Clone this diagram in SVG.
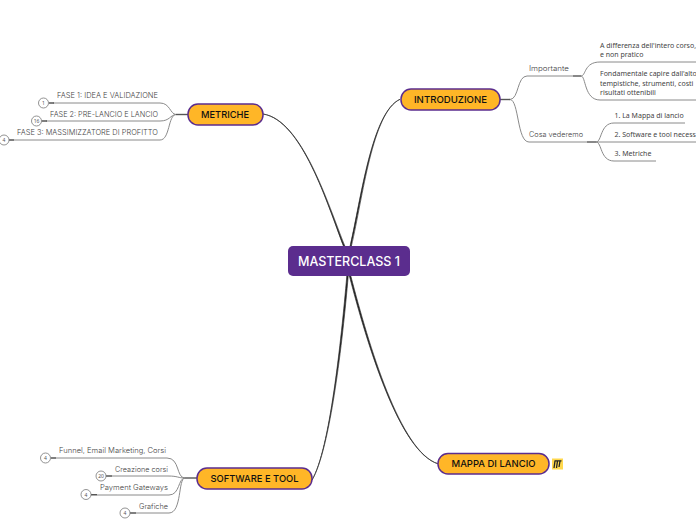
<svg xmlns="http://www.w3.org/2000/svg" width="696" height="520" viewBox="0 0 696 520">
<style>
.c{fill:#1c1c1c;stroke:#333;stroke-width:.7;stroke-linejoin:round}
.g{fill:none;stroke:#8a8a8a;stroke-width:1}
.d{fill:none;stroke:#555;stroke-width:1.4}
.n{fill:#ffb627;stroke:#5b2d8e;stroke-width:1.5}
.nt{font-family:Inter,"Liberation Sans",sans-serif;font-size:9.5px;font-weight:500;fill:#111;text-anchor:middle}
.l{font-family:Inter,"Liberation Sans",sans-serif;font-size:7.2px;font-weight:300;fill:#444}
.b{font-family:"Noto Sans","Open Sans",sans-serif;font-size:7px;fill:#444}
.r{fill:#fff;stroke:#777;stroke-width:.8}
.rt{font-family:"Noto Sans",sans-serif;font-size:5px;fill:#555;text-anchor:middle}
</style>
<g id="connectors">
<path class="c" d="M343.400 246C327.800 205 301.800 120 263 114C302.200 119.700 328.200 205 344.800 246Z"/>
<path class="c" d="M350.100 246C361.200 198 371.800 112 400 99.300C372.200 112.200 362.800 198 351.400 246Z"/>
<path class="c" d="M346.800 276C341.200 340 329.800 450 312 480C330.200 450 342.800 340 348.200 276Z"/>
<path class="c" d="M349.400 276C367.200 345 399.800 452 438 463.800C400.200 451.800 368.800 345 350.800 276Z"/>
<path class="d" d="M500 99.500H510"/>
<path class="g" d="M510 99.500C519 99 517 76 527 76H573"/>
<path class="g" d="M510 99.500C519 100 517 142 529 142H587"/>
<path class="d" d="M573 76H581"/>
<path class="g" d="M581 76C586 76 584 62 600 62H696"/>
<path class="g" d="M581 76C586 76 584 100 600 100H696"/>
<path class="d" d="M587 142H596"/>
<path class="g" d="M596 142C602 142 600 123 614 123H685"/>
<path class="g" d="M596 142H696"/>
<path class="g" d="M596 142C602 142 600 161 614 161H656"/>
<path class="d" d="M188 114.500H176"/>
<path class="g" d="M176 114.500C170 114 170 103 160 103H53"/>
<path class="g" d="M176 114.500C170 115 170 121 160 121H46"/>
<path class="g" d="M176 114.500C168 115 170 140 160 140H14"/>
<path class="d" d="M197 478H185"/>
<path class="g" d="M185 478C176 478 180 458 167 458H56"/>
<path class="g" d="M185 478C178 478 178 476 168 476H112"/>
<path class="g" d="M185 478C178 478 180 495 169 495H97"/>
<path class="g" d="M185 478C178 478 182 513 169 513H136"/>
<path class="d" d="M49 103H54M41.500 121H47M9 140H14M51 458H56M106 476H112M91 494.700H97M130 513H136"/>
</g>
<g id="central"><rect x="288" y="246" width="122" height="30" rx="5" fill="#5b2d8e"/><text x="349" y="266" font-family="Inter,'Liberation Sans',sans-serif" font-size="13px" font-weight="500" fill="#fff" text-anchor="middle" textLength="102" lengthAdjust="spacingAndGlyphs">MASTERCLASS 1</text></g>
<g id="introduzione"><rect class="n" x="401" y="89" width="99" height="21" rx="10"/><text class="nt" x="450.500" y="102.500" textLength="73" lengthAdjust="spacingAndGlyphs">INTRODUZIONE</text></g>
<g id="metriche"><rect class="n" x="188" y="104" width="75" height="21" rx="10"/><text class="nt" x="225" y="117.500" textLength="48" lengthAdjust="spacingAndGlyphs">METRICHE</text></g>
<g id="software"><rect class="n" x="197" y="468" width="115" height="21" rx="10"/><text class="nt" x="254.500" y="482" textLength="88" lengthAdjust="spacingAndGlyphs">SOFTWARE E TOOL</text></g>
<g id="mappa"><rect class="n" x="438" y="453.500" width="111" height="20.500" rx="10"/><text class="nt" x="493.500" y="467" textLength="84" lengthAdjust="spacingAndGlyphs">MAPPA DI LANCIO</text>
<rect x="552" y="458.500" width="11" height="11" fill="#ffd84d"/><path d="M555 461L554 468M557.500 461L556.500 468M560 461L559 467M554.500 460.800H561.500" stroke="#222" stroke-width="1.300" fill="none"/></g>
<g id="importante"><text class="l" x="529" y="71" textLength="40" lengthAdjust="spacingAndGlyphs">Importante</text></g>
<g id="cosa"><text class="l" x="529" y="137" textLength="54" lengthAdjust="spacingAndGlyphs">Cosa vederemo</text></g>
<g id="differenza"><text class="b" x="600" y="47.500">A differenza dell'intero corso,</text><text class="b" x="600" y="57">e non pratico</text></g>
<g id="fondamentale"><text class="b" x="600" y="76">Fondamentale capire dall'alto</text><text class="b" x="600" y="85.500">tempistiche, strumenti, costi</text><text class="b" x="600" y="95">risultati ottenibili</text></g>
<g id="i1"><text class="b" x="614.500" y="118">1. La Mappa di lancio</text></g>
<g id="i2"><text class="b" x="614.500" y="137">2. Software e tool necess</text></g>
<g id="i3"><text class="b" x="614.500" y="156">3. Metriche</text></g>
<g id="f1"><text class="l" x="158" y="98" text-anchor="end" textLength="101" lengthAdjust="spacingAndGlyphs">FASE 1: IDEA E VALIDAZIONE</text><circle class="r" cx="43.500" cy="103" r="5"/><text class="rt" x="43.500" y="105">1</text></g>
<g id="f2"><text class="l" x="158" y="117" text-anchor="end" textLength="108" lengthAdjust="spacingAndGlyphs">FASE 2: PRE-LANCIO E LANCIO</text><circle class="r" cx="36.500" cy="121" r="5"/><text class="rt" x="36.500" y="123">16</text></g>
<g id="f3"><text class="l" x="158" y="135" text-anchor="end" textLength="141" lengthAdjust="spacingAndGlyphs">FASE 3: MASSIMIZZATORE DI PROFITTO</text><circle class="r" cx="4" cy="140" r="5"/><text class="rt" x="4" y="142">4</text></g>
<g id="s1"><text class="l" x="166" y="453" text-anchor="end" textLength="107" lengthAdjust="spacingAndGlyphs">Funnel, Email Marketing, Corsi</text><circle class="r" cx="45.500" cy="458" r="5"/><text class="rt" x="45.500" y="460">4</text></g>
<g id="s2"><text class="l" x="168" y="472" text-anchor="end" textLength="53" lengthAdjust="spacingAndGlyphs">Creazione corsi</text><circle class="r" cx="101" cy="476" r="5"/><text class="rt" x="101" y="478">20</text></g>
<g id="s3"><text class="l" x="168" y="490" text-anchor="end" textLength="68" lengthAdjust="spacingAndGlyphs">Payment Gateways</text><circle class="r" cx="86" cy="494.500" r="5"/><text class="rt" x="86" y="496.500">4</text></g>
<g id="s4"><text class="l" x="168" y="509" text-anchor="end" textLength="29" lengthAdjust="spacingAndGlyphs">Grafiche</text><circle class="r" cx="125" cy="513" r="5"/><text class="rt" x="125" y="515">4</text></g>
</svg>
